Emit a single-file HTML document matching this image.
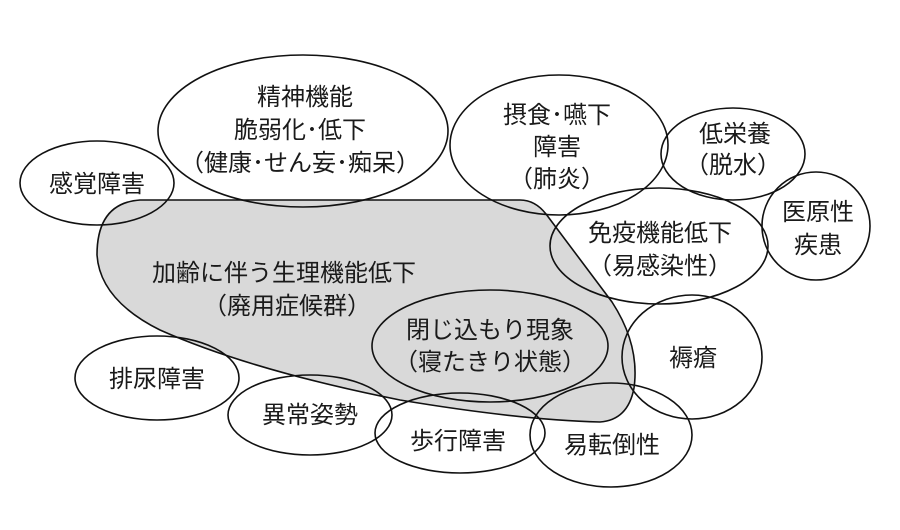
<!DOCTYPE html>
<html><head><meta charset="utf-8"><style>
html,body{margin:0;padding:0;background:#fff;}
svg{display:block;}
text{font-family:"Liberation Sans","Noto Sans CJK JP",sans-serif;font-size:24px;fill:#1a1a1a;text-anchor:middle;}
</style></head><body>
<svg width="900" height="530" viewBox="0 0 900 530" xmlns="http://www.w3.org/2000/svg">
<path d="M140,200 L520,200 Q535,200 546,214 L612,302 Q640,345 634,388 Q628,420 600,422 Q520,420 400,400 Q250,370 160,330 Q100,300 97,255 Q97,203 140,200 Z" fill="#d9d9d9" stroke="#111" stroke-width="1.6"/>
<g fill="none" stroke="#111" stroke-width="1.6">
<ellipse cx="303" cy="131" rx="145" ry="76"/>
<ellipse cx="97" cy="183" rx="77" ry="42"/>
<ellipse cx="559" cy="145" rx="109" ry="70"/>
<ellipse cx="733" cy="154" rx="72" ry="46"/>
<ellipse cx="816" cy="226" rx="54" ry="54"/>
<ellipse cx="659" cy="246" rx="109" ry="58"/>
<ellipse cx="692" cy="357" rx="70" ry="62"/>
<ellipse cx="611" cy="435" rx="81" ry="52"/>
<ellipse cx="460" cy="433" rx="85" ry="40"/>
<ellipse cx="310" cy="415" rx="82" ry="40"/>
<ellipse cx="157" cy="378" rx="82" ry="42"/>
<ellipse cx="490" cy="346" rx="118" ry="56"/>
</g>
<text x="305" y="105">精神機能</text>
<text x="300" y="138">脆弱化･低下</text>
<text x="300" y="171">（健康･せん妄･痴呆）</text>
<text x="97" y="192">感覚障害</text>
<text x="557" y="123">摂食･嚥下</text>
<text x="557" y="155">障害</text>
<text x="557" y="187">（肺炎）</text>
<text x="735" y="142">低栄養</text>
<text x="733" y="173">（脱水）</text>
<text x="818" y="220">医原性</text>
<text x="818" y="253">疾患</text>
<text x="660" y="241">免疫機能低下</text>
<text x="660" y="274">（易感染性）</text>
<text x="693" y="366">褥瘡</text>
<text x="612" y="453">易転倒性</text>
<text x="458" y="449">歩行障害</text>
<text x="310" y="423">異常姿勢</text>
<text x="157" y="387">排尿障害</text>
<text x="284" y="281">加齢に伴う生理機能低下</text>
<text x="287" y="314">（廃用症候群）</text>
<text x="490" y="338">閉じ込もり現象</text>
<text x="490" y="370">（寝たきり状態）</text>
</svg>
</body></html>
